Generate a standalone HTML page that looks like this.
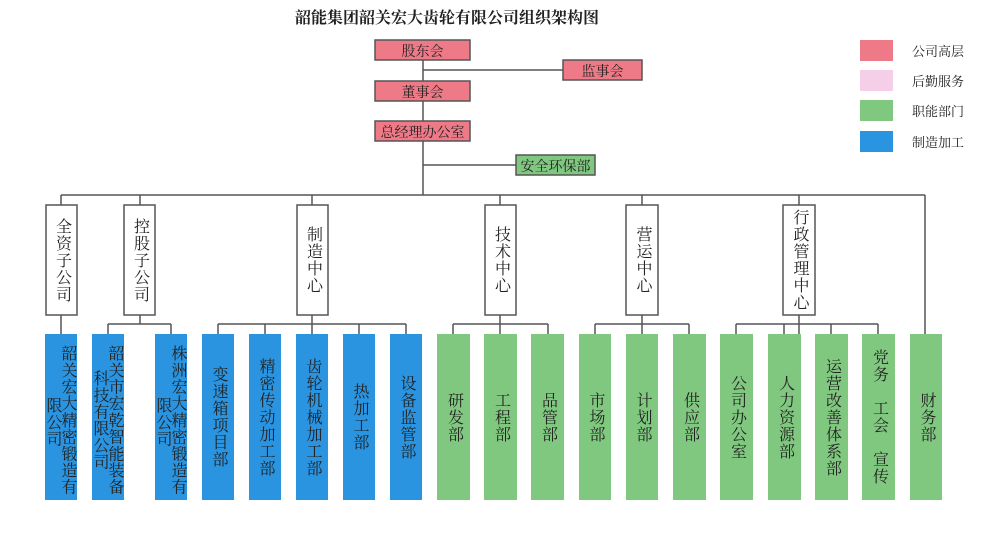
<!DOCTYPE html>
<html><head><meta charset="utf-8"><style>
body{margin:0;width:995px;height:538px;background:#fff;position:relative;overflow:hidden;font-family:"Liberation Serif","Noto Serif CJK SC","Noto Sans CJK SC",serif;color:#222}
.t{position:absolute;display:flex;align-items:center;justify-content:center}
.v{writing-mode:vertical-rl;font-size:16px;letter-spacing:1px;line-height:16px}
.c{position:absolute;writing-mode:vertical-rl;font-size:16px;letter-spacing:0.7px;line-height:16px}
.h{position:absolute;font-size:14px;display:flex;align-items:center;justify-content:center;height:21px}
</style></head><body>
<svg width="995" height="538" style="position:absolute;left:0;top:0">
<g stroke="#555" stroke-width="1.5" fill="none">
<line x1="423" y1="60" x2="423" y2="195"/>
<line x1="423" y1="70" x2="563" y2="70"/>
<line x1="423" y1="165" x2="516" y2="165"/>
<line x1="61" y1="195" x2="925" y2="195"/>
<line x1="61" y1="195" x2="61" y2="334"/>
<line x1="140" y1="195" x2="140" y2="205"/>
<line x1="312" y1="195" x2="312" y2="205"/>
<line x1="500" y1="195" x2="500" y2="205"/>
<line x1="642" y1="195" x2="642" y2="205"/>
<line x1="799" y1="195" x2="799" y2="205"/>
<line x1="925" y1="195" x2="925" y2="334"/>
<line x1="140" y1="315" x2="140" y2="324"/><line x1="108" y1="324" x2="171" y2="324"/>
<line x1="108" y1="324" x2="108" y2="334"/><line x1="171" y1="324" x2="171" y2="334"/>
<line x1="312" y1="315" x2="312" y2="334"/><line x1="218" y1="324" x2="406" y2="324"/>
<line x1="218" y1="324" x2="218" y2="334"/><line x1="265" y1="324" x2="265" y2="334"/><line x1="359" y1="324" x2="359" y2="334"/><line x1="406" y1="324" x2="406" y2="334"/>
<line x1="500" y1="315" x2="500" y2="334"/><line x1="453" y1="324" x2="548" y2="324"/>
<line x1="453" y1="324" x2="453" y2="334"/><line x1="548" y1="324" x2="548" y2="334"/>
<line x1="642" y1="315" x2="642" y2="334"/><line x1="595" y1="324" x2="689" y2="324"/>
<line x1="595" y1="324" x2="595" y2="334"/><line x1="689" y1="324" x2="689" y2="334"/>
<line x1="799" y1="315" x2="799" y2="334"/><line x1="736" y1="324" x2="878" y2="324"/>
<line x1="736" y1="324" x2="736" y2="334"/><line x1="784" y1="324" x2="784" y2="334"/><line x1="831" y1="324" x2="831" y2="334"/><line x1="878" y1="324" x2="878" y2="334"/>
</g>
<g stroke="#555" stroke-width="1.5">
<rect x="375" y="40" width="95" height="20" fill="#ef7a87"/>
<rect x="563" y="60" width="79" height="20" fill="#ef7a87"/>
<rect x="375" y="81" width="95" height="20" fill="#ef7a87"/>
<rect x="375" y="121" width="95" height="20" fill="#ef7a87"/>
<rect x="516" y="155" width="79" height="20" fill="#80c87f"/>
</g>
<g stroke="#555" stroke-width="1.5" fill="#fff">
<rect x="46" y="205" width="31" height="110"/>
<rect x="124" y="205" width="31" height="110"/>
<rect x="297" y="205" width="31" height="110"/>
<rect x="485" y="205" width="31" height="110"/>
<rect x="626" y="205" width="32" height="110"/>
<rect x="783" y="205" width="32" height="110"/>
</g>
<g fill="#2a94e0">
<rect x="45" y="334" width="32" height="166"/><rect x="92" y="334" width="32" height="166"/>
<rect x="155" y="334" width="32" height="166"/><rect x="202" y="334" width="32" height="166"/>
<rect x="249" y="334" width="32" height="166"/><rect x="296" y="334" width="32" height="166"/>
<rect x="343" y="334" width="32" height="166"/><rect x="390" y="334" width="32" height="166"/>
</g>
<g fill="#80c87f">
<rect x="437" y="334" width="33" height="166"/><rect x="484" y="334" width="33" height="166"/>
<rect x="531" y="334" width="33" height="166"/><rect x="579" y="334" width="32" height="166"/>
<rect x="626" y="334" width="32" height="166"/><rect x="673" y="334" width="33" height="166"/>
<rect x="720" y="334" width="33" height="166"/><rect x="768" y="334" width="33" height="166"/>
<rect x="815" y="334" width="33" height="166"/><rect x="862" y="334" width="33" height="166"/>
<rect x="910" y="334" width="32" height="166"/>
</g>
<rect x="860" y="40" width="33" height="21" fill="#ef7a87"/>
<rect x="860" y="70" width="33" height="21" fill="#f5cfe8"/>
<rect x="860" y="100" width="33" height="21" fill="#80c87f"/>
<rect x="860" y="131" width="33" height="21" fill="#2a94e0"/>
</svg>
<div class="h" style="left:295px;top:6px;font-size:16px;font-weight:bold;justify-content:flex-start">韶能集团韶关宏大齿轮有限公司组织架构图</div>
<div class="h" style="left:375px;top:40px;width:95px">股东会</div>
<div class="h" style="left:563px;top:60px;width:79px">监事会</div>
<div class="h" style="left:375px;top:81px;width:95px">董事会</div>
<div class="h" style="left:375px;top:121px;width:95px">总经理办公室</div>
<div class="h" style="left:516px;top:155px;width:79px">安全环保部</div>
<div class="h" style="left:912px;top:40px;font-size:13px">公司高层</div>
<div class="h" style="left:912px;top:70px;font-size:13px">后勤服务</div>
<div class="h" style="left:912px;top:100px;font-size:13px">职能部门</div>
<div class="h" style="left:912px;top:131px;font-size:13px">制造加工</div>

<div class="t" style="left:46px;top:205px;width:31px;height:110px"><div class="v">全资子公司</div></div>
<div class="t" style="left:124px;top:205px;width:31px;height:110px"><div class="v">控股子公司</div></div>
<div class="t" style="left:297px;top:205px;width:31px;height:110px"><div class="v">制造中心</div></div>
<div class="t" style="left:485px;top:205px;width:31px;height:110px"><div class="v">技术中心</div></div>
<div class="t" style="left:626px;top:205px;width:32px;height:110px"><div class="v">营运中心</div></div>
<div class="t" style="left:783px;top:205px;width:32px;height:110px"><div class="v">行政管理中心</div></div>

<div class="c" style="left:59px;top:345px">韶关宏大精密锻造有</div>
<div class="c" style="left:44px;top:397px">限公司</div>
<div class="c" style="left:106px;top:345px">韶关市宏乾智能装备</div>
<div class="c" style="left:91px;top:370px">科技有限公司</div>
<div class="c" style="left:169px;top:345px">株洲宏大精密锻造有</div>
<div class="c" style="left:154px;top:397px">限公司</div>

<div class="t" style="left:202px;top:334px;width:32px;height:166px"><div class="v">变速箱项目部</div></div>
<div class="t" style="left:249px;top:334px;width:32px;height:166px"><div class="v">精密传动加工部</div></div>
<div class="t" style="left:296px;top:334px;width:32px;height:166px"><div class="v">齿轮机械加工部</div></div>
<div class="t" style="left:343px;top:334px;width:32px;height:166px"><div class="v">热加工部</div></div>
<div class="t" style="left:390px;top:334px;width:32px;height:166px"><div class="v">设备监管部</div></div>
<div class="t" style="left:437px;top:334px;width:33px;height:166px"><div class="v">研发部</div></div>
<div class="t" style="left:484px;top:334px;width:33px;height:166px"><div class="v">工程部</div></div>
<div class="t" style="left:531px;top:334px;width:33px;height:166px"><div class="v">品管部</div></div>
<div class="t" style="left:579px;top:334px;width:32px;height:166px"><div class="v">市场部</div></div>
<div class="t" style="left:626px;top:334px;width:32px;height:166px"><div class="v">计划部</div></div>
<div class="t" style="left:673px;top:334px;width:33px;height:166px"><div class="v">供应部</div></div>
<div class="t" style="left:720px;top:334px;width:33px;height:166px"><div class="v">公司办公室</div></div>
<div class="t" style="left:768px;top:334px;width:33px;height:166px"><div class="v">人力资源部</div></div>
<div class="t" style="left:815px;top:334px;width:33px;height:166px"><div class="v">运营改善体系部</div></div>
<div class="t" style="left:862px;top:334px;width:33px;height:166px"><div class="v">党务　工会　宣传</div></div>
<div class="t" style="left:910px;top:334px;width:32px;height:166px"><div class="v">财务部</div></div>
</body></html>
